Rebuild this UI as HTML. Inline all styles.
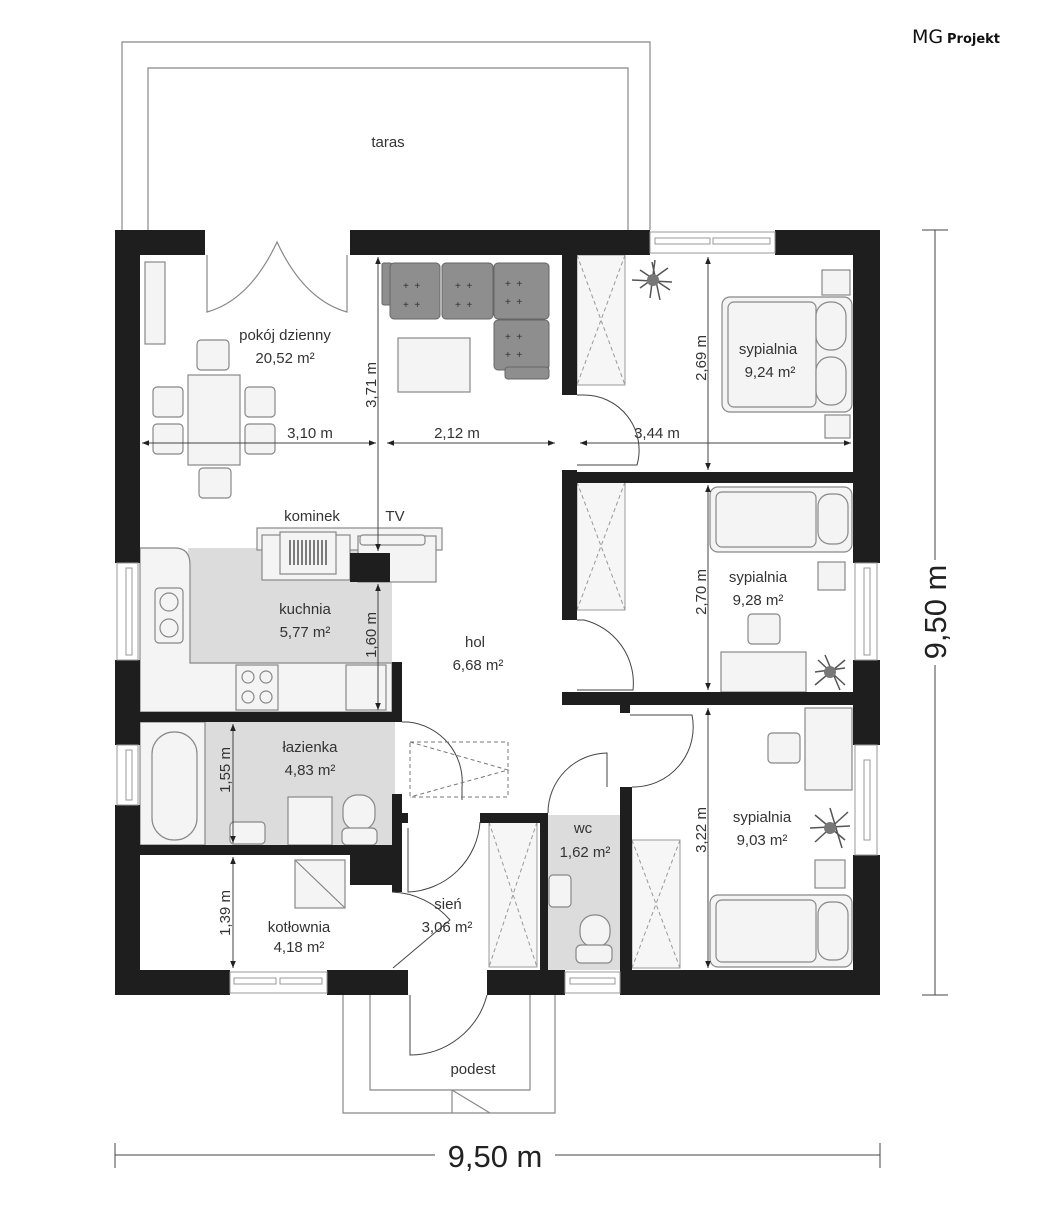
<!DOCTYPE html>
<html><head><meta charset="utf-8"><style>
html,body{margin:0;padding:0;background:#fff;width:1050px;height:1225px;overflow:hidden}
svg{display:block}
text{font-family:"Liberation Sans",sans-serif;fill:#333}
.l{font-size:15px}
.w{fill:#1e1e1e}
.f{fill:#f4f4f4;stroke:#888;stroke-width:1.2}
.o{fill:none;stroke:#888;stroke-width:1.2}
.d{fill:none;stroke:#444;stroke-width:1}
.cl{fill:#f6f6f6;stroke:#999;stroke-width:1}
.x{stroke:#999;stroke-width:1;stroke-dasharray:4 3}
</style></head><body>
<svg width="1050" height="1225" viewBox="0 0 1050 1225" xmlns="http://www.w3.org/2000/svg">
<defs>
<marker id="a" viewBox="0 0 10 10" refX="10" refY="5" markerWidth="7" markerHeight="7" orient="auto-start-reverse"><path d="M0,1 L10,5 L0,9z" fill="#222"/></marker>
</defs>
<!-- logo -->
<text x="912" y="43" style="font-size:19px;font-family:'DejaVu Sans',sans-serif;fill:#111">MG</text>
<text x="947" y="43" style="font-size:13px;font-family:'DejaVu Sans',sans-serif;fill:#111;font-weight:bold">Projekt</text>

<!-- terrace -->
<path class="o" d="M122,230 V42 H650 V230 M148,230 V68 H628 V230"/>
<text class="l" x="388" y="147" text-anchor="middle">taras</text>

<!-- grey floors -->
<rect x="188" y="548" width="204" height="115" fill="#dcdcdc"/>
<rect x="205" y="722" width="190" height="123" fill="#dcdcdc"/>
<rect x="548" y="815" width="72" height="155" fill="#dcdcdc"/>

<!-- kitchen counters -->
<path class="f" d="M140,548 H175 Q190,548 190,565 V663 H392 V712 H140z"/>
<rect class="f" x="155" y="588" width="28" height="55" rx="4"/>
<circle class="o" cx="169" cy="602" r="9"/><circle class="o" cx="169" cy="628" r="9"/>
<rect class="f" x="236" y="665" width="42" height="45"/>
<g class="o"><circle cx="248" cy="677" r="6"/><circle cx="266" cy="677" r="6"/><circle cx="248" cy="697" r="6"/><circle cx="266" cy="697" r="6"/></g>
<rect class="f" x="346" y="665" width="40" height="45"/>

<!-- fireplace / TV -->
<rect class="f" x="257" y="528" width="185" height="22"/>
<rect class="f" x="262" y="535" width="88" height="45"/>
<rect class="f" x="280" y="532" width="56" height="42"/>
<g stroke="#555" stroke-width="1.5"><path d="M290,540v25M294,540v25M298,540v25M302,540v25M306,540v25M310,540v25M314,540v25M318,540v25M322,540v25M326,540v25"/></g>
<rect class="f" x="358" y="536" width="78" height="46"/>
<rect class="f" x="360" y="535" width="65" height="10" rx="3"/>

<!-- sofa -->
<g fill="#8e8e8e" stroke="#666" stroke-width="1">
<rect x="382" y="263" width="10" height="42" rx="2"/>
<rect x="390" y="263" width="50" height="56" rx="4"/>
<rect x="442" y="263" width="51" height="56" rx="4"/>
<rect x="494" y="263" width="55" height="56" rx="4"/>
<rect x="494" y="320" width="55" height="50" rx="4"/>
<rect x="505" y="367" width="44" height="12" rx="3"/>
</g>
<g fill="#333" font-size="10" font-family="Liberation Sans"><text x="403" y="289">+ &#160;+</text><text x="403" y="308">+ &#160;+</text><text x="455" y="289">+ &#160;+</text><text x="455" y="308">+ &#160;+</text><text x="505" y="287">+ &#160;+</text><text x="505" y="305">+ &#160;+</text><text x="505" y="340">+ &#160;+</text><text x="505" y="358">+ &#160;+</text></g>
<rect class="f" x="398" y="338" width="72" height="54"/>

<!-- TV shelf left -->
<rect class="f" x="145" y="262" width="20" height="82"/>

<!-- dining -->
<rect class="f" x="188" y="375" width="52" height="90"/>
<g class="f"><rect x="197" y="340" width="32" height="30" rx="4"/><rect x="199" y="468" width="32" height="30" rx="4"/><rect x="153" y="387" width="30" height="30" rx="4"/><rect x="153" y="424" width="30" height="30" rx="4"/><rect x="245" y="387" width="30" height="30" rx="4"/><rect x="245" y="424" width="30" height="30" rx="4"/></g>

<!-- terrace double doors -->
<path class="o" d="M207,255 V312 Q250,300 277,242 Q304,300 347,312 V255"/>

<!-- closets -->
<rect class="cl" x="577" y="255" width="48" height="130"/><path class="x" d="M577,255 L625,385 M625,255 L577,385"/>
<rect class="cl" x="577" y="482" width="48" height="128"/><path class="x" d="M577,482 L625,610 M625,482 L577,610"/>
<rect class="cl" x="489" y="822" width="48" height="145"/><path class="x" d="M489,822 L537,967 M537,822 L489,967"/>
<rect class="cl" x="632" y="840" width="48" height="128"/><path class="x" d="M632,840 L680,968 M680,840 L632,968"/>

<!-- bedroom 1 -->
<rect class="f" x="722" y="297" width="130" height="115" rx="8"/>
<rect class="f" x="728" y="302" width="88" height="105" rx="6"/>
<rect class="f" x="816" y="302" width="30" height="48" rx="14"/><rect class="f" x="816" y="357" width="30" height="48" rx="14"/>
<rect class="f" x="822" y="270" width="28" height="25"/><rect class="f" x="825" y="415" width="25" height="23"/>
<g stroke="#555" stroke-width="1.5"><path d="M652,262 L660,300 M640,270 L670,290 M640,288 L668,268 M655,260 L650,298 M632,280 L672,282"/></g><circle cx="653" cy="280" r="6" fill="#777"/>

<!-- bedroom 2 -->
<rect class="f" x="710" y="487" width="142" height="65" rx="8"/>
<rect class="f" x="716" y="492" width="100" height="55" rx="6"/>
<rect class="f" x="818" y="494" width="30" height="50" rx="12"/>
<rect class="f" x="818" y="562" width="27" height="28"/>
<rect class="f" x="748" y="614" width="32" height="30" rx="4"/>
<rect class="f" x="721" y="652" width="85" height="40"/>
<g stroke="#555" stroke-width="1.5"><path d="M825,655 L840,690 M815,672 L845,668 M818,660 L845,685 M815,685 L845,660"/></g><circle cx="830" cy="672" r="6" fill="#777"/>

<!-- bedroom 3 -->
<rect class="f" x="805" y="708" width="47" height="82"/>
<rect class="f" x="768" y="733" width="32" height="30" rx="4"/>
<g stroke="#555" stroke-width="1.5"><path d="M830,808 L842,848 M810,828 L850,826 M815,815 L845,840 M815,842 L848,812"/></g><circle cx="830" cy="828" r="6" fill="#777"/>
<rect class="f" x="815" y="860" width="30" height="28"/>
<rect class="f" x="710" y="895" width="142" height="72" rx="8"/>
<rect class="f" x="716" y="900" width="100" height="62" rx="6"/>
<rect class="f" x="818" y="902" width="30" height="58" rx="12"/>

<!-- bathroom -->
<rect class="f" x="140" y="722" width="65" height="123"/>
<rect class="f" x="152" y="732" width="45" height="108" rx="22"/>
<rect class="f" x="230" y="822" width="35" height="22" rx="4"/>
<rect class="f" x="288" y="797" width="44" height="48"/>
<rect class="f" x="343" y="795" width="32" height="35" rx="14"/><rect class="f" x="342" y="828" width="35" height="17" rx="5"/>
<!-- wc fixtures -->
<rect class="f" x="549" y="875" width="22" height="32" rx="4"/>
<rect class="f" x="580" y="915" width="30" height="32" rx="14"/><rect class="f" x="576" y="945" width="36" height="18" rx="5"/>
<!-- boiler -->
<rect class="f" x="295" y="860" width="50" height="48"/><path class="o" d="M295,860 L345,908"/>

<!-- walls -->
<g class="w">
<rect x="115" y="230" width="90" height="25"/>
<rect x="350" y="230" width="300" height="25"/>
<rect x="775" y="230" width="105" height="25"/>
<rect x="115" y="230" width="25" height="333"/>
<rect x="115" y="660" width="25" height="85"/>
<rect x="115" y="805" width="25" height="190"/>
<rect x="115" y="970" width="115" height="25"/>
<rect x="327" y="970" width="81" height="25"/>
<rect x="487" y="970" width="78" height="25"/>
<rect x="620" y="970" width="260" height="25"/>
<rect x="853" y="230" width="27" height="333"/>
<rect x="853" y="660" width="27" height="85"/>
<rect x="853" y="855" width="27" height="140"/>
<rect x="562" y="255" width="15" height="140"/>
<rect x="562" y="470" width="15" height="150"/>
<rect x="562" y="472" width="291" height="11"/>
<rect x="562" y="692" width="291" height="13"/>
<rect x="620" y="705" width="10" height="8"/>
<rect x="620" y="787" width="12" height="208"/>
<rect x="540" y="815" width="8" height="155"/>
<rect x="480" y="813" width="68" height="10"/>
<rect x="140" y="712" width="262" height="10"/>
<rect x="392" y="662" width="10" height="60"/>
<rect x="350" y="553" width="40" height="29"/>
<rect x="392" y="794" width="10" height="98"/>
<rect x="402" y="813" width="6" height="10"/>
<rect x="140" y="845" width="252" height="10"/>
<rect x="350" y="855" width="42" height="30"/>
</g>
<!-- windows -->
<g fill="#fff" stroke="#999" stroke-width="1">
<rect x="650" y="232" width="125" height="21"/><rect x="655" y="238" width="55" height="6"/><rect x="713" y="238" width="57" height="6"/>
<rect x="117" y="563" width="21" height="97"/><rect x="126" y="568" width="6" height="87"/>
<rect x="117" y="745" width="21" height="60"/><rect x="126" y="750" width="6" height="50"/>
<rect x="855" y="563" width="22" height="97"/><rect x="864" y="568" width="6" height="87"/>
<rect x="855" y="745" width="22" height="110"/><rect x="864" y="760" width="6" height="80"/>
<rect x="230" y="972" width="97" height="21"/><rect x="234" y="978" width="42" height="6"/><rect x="280" y="978" width="42" height="6"/>
<rect x="565" y="972" width="55" height="21"/><rect x="570" y="978" width="45" height="6"/>
</g>

<!-- doors -->
<g class="d">
<path d="M577,395 H584 A55,55 0 0 1 637,465 H577"/>
<path d="M577,620 H584 A65,65 0 0 1 633,690 H577"/>
<path d="M630,715 H692 A60,60 0 0 1 632,787"/>
<path d="M548,813 A60,60 0 0 1 607,753 V787"/>
<path d="M402,722 H408 A60,60 0 0 1 462,787 V800"/>
<path d="M408,828 V892 A75,75 0 0 0 480,822"/>
<path d="M393,968 L450,920 A80,80 0 0 0 392,892"/>
<path d="M410,995 V1055 A80,80 0 0 0 487,995"/>
</g>
<rect x="410" y="742" width="98" height="55" fill="none" stroke="#777" stroke-dasharray="4 3"/>
<path d="M410,742 L508,770 L410,797" fill="none" stroke="#777" stroke-dasharray="4 3"/>

<!-- podest -->
<path class="o" d="M343,995 V1113 H555 V995 M370,995 V1090 H530 V995 M452,1090 L490,1113 M452,1090 V1113"/>

<!-- dimension lines -->
<g stroke="#444" stroke-width="1" fill="none">
<line x1="378" y1="257" x2="378" y2="551" marker-start="url(#a)" marker-end="url(#a)"/>
<line x1="378" y1="584" x2="378" y2="710" marker-start="url(#a)" marker-end="url(#a)"/>
<line x1="142" y1="443" x2="376" y2="443" marker-start="url(#a)" marker-end="url(#a)"/>
<line x1="387" y1="443" x2="555" y2="443" marker-start="url(#a)"/>
<line x1="550" y1="443" x2="555" y2="443" marker-end="url(#a)"/>
<line x1="580" y1="443" x2="851" y2="443" marker-start="url(#a)" marker-end="url(#a)"/>
<line x1="708" y1="257" x2="708" y2="470" marker-start="url(#a)" marker-end="url(#a)"/>
<line x1="708" y1="485" x2="708" y2="690" marker-start="url(#a)" marker-end="url(#a)"/>
<line x1="708" y1="708" x2="708" y2="968" marker-start="url(#a)" marker-end="url(#a)"/>
<line x1="233" y1="724" x2="233" y2="843" marker-start="url(#a)" marker-end="url(#a)"/>
<line x1="233" y1="857" x2="233" y2="968" marker-start="url(#a)" marker-end="url(#a)"/>
<path d="M115,1143 V1168 M880,1143 V1168 M115,1155 H435 M555,1155 H880"/>
<path d="M922,230 H948 M922,995 H948 M935,230 V560 M935,665 V995"/>
</g>
<text x="495" y="1167" text-anchor="middle" style="font-size:31px;fill:#222">9,50 m</text>
<text transform="translate(946,612) rotate(-90)" text-anchor="middle" style="font-size:31px;fill:#222">9,50 m</text>

<!-- labels -->
<g class="l">
<text x="285" y="340" text-anchor="middle">pokój dzienny</text><text x="285" y="363" text-anchor="middle">20,52 m²</text>
<text x="310" y="438" text-anchor="middle">3,10 m</text>
<text x="457" y="438" text-anchor="middle">2,12 m</text>
<text x="657" y="438" text-anchor="middle">3,44 m</text>
<text transform="translate(376,385) rotate(-90)" text-anchor="middle">3,71 m</text>
<text transform="translate(376,635) rotate(-90)" text-anchor="middle">1,60 m</text>
<text x="312" y="521" text-anchor="middle">kominek</text><text x="395" y="521" text-anchor="middle">TV</text>
<text x="305" y="614" text-anchor="middle">kuchnia</text><text x="305" y="637" text-anchor="middle">5,77 m²</text>
<text x="475" y="647" text-anchor="middle">hol</text><text x="478" y="670" text-anchor="middle">6,68 m²</text>
<text x="768" y="354" text-anchor="middle">sypialnia</text><text x="770" y="377" text-anchor="middle">9,24 m²</text>
<text transform="translate(706,358) rotate(-90)" text-anchor="middle">2,69 m</text>
<text x="758" y="582" text-anchor="middle">sypialnia</text><text x="758" y="605" text-anchor="middle">9,28 m²</text>
<text transform="translate(706,592) rotate(-90)" text-anchor="middle">2,70 m</text>
<text x="310" y="752" text-anchor="middle">łazienka</text><text x="310" y="775" text-anchor="middle">4,83 m²</text>
<text transform="translate(230,770) rotate(-90)" text-anchor="middle">1,55 m</text>
<text x="762" y="822" text-anchor="middle">sypialnia</text><text x="762" y="845" text-anchor="middle">9,03 m²</text>
<text transform="translate(706,830) rotate(-90)" text-anchor="middle">3,22 m</text>
<text x="583" y="833" text-anchor="middle">wc</text><text x="585" y="857" text-anchor="middle">1,62 m²</text>
<text transform="translate(230,913) rotate(-90)" text-anchor="middle">1,39 m</text>
<text x="299" y="932" text-anchor="middle">kotłownia</text><text x="299" y="952" text-anchor="middle">4,18 m²</text>
<text x="448" y="909" text-anchor="middle">sień</text><text x="447" y="932" text-anchor="middle">3,06 m²</text>
<text x="473" y="1074" text-anchor="middle">podest</text>
</g>
</svg>
</body></html>
